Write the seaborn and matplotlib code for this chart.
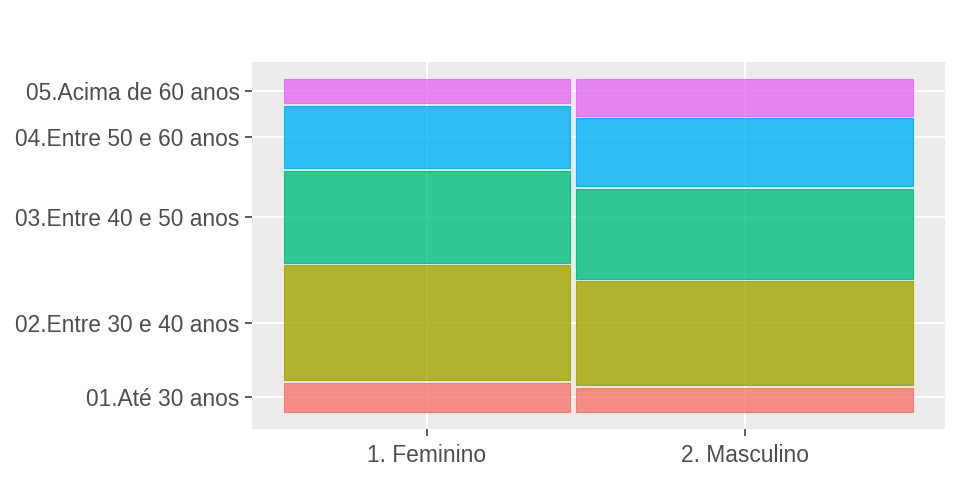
import matplotlib
matplotlib.use("Agg")
import matplotlib.pyplot as plt
import seaborn as sns
import numpy as np
import pandas as pd
from matplotlib.colors import to_rgba

# ---- data ----
genders = ["1. Feminino", "2. Masculino"]
gender_share = [0.459, 0.541]
age_groups = ["01.Até 30 anos", "02.Entre 30 e 40 anos", "03.Entre 40 e 50 anos",
              "04.Entre 50 e 60 anos", "05.Acima de 60 anos"]
fem_props = [0.092, 0.355, 0.284, 0.193, 0.076]
masc_props = [0.076, 0.321, 0.278, 0.211, 0.114]
palette = ["#F8766D", "#A3A500", "#00BF7D", "#00B0F6", "#E76BF3"]

sns.set_theme(style="darkgrid", rc={
    "axes.facecolor": "#EBEBEB",
    "grid.color": "white",
    "grid.linewidth": 1.4,
    "axes.edgecolor": "#EBEBEB",
})
plt.rcParams["font.family"] = ["Liberation Sans", "DejaVu Sans"]

fig = plt.figure(figsize=(9.6, 4.8), dpi=100)
ax = fig.add_axes([252/960, 51/480, 693/960, 367/480])

gap_x = 0.009
gap_y = 0.0075
props = [fem_props, masc_props]
x0 = 0.0
xcenters = []
ycenters_first = []
for gi, g in enumerate(genders):
    w = gender_share[gi] * (1 - gap_x)
    p = np.array(props[gi])
    p = p / p.sum()
    hs = p * (1 - gap_y * (len(p) - 1))
    y0 = 0.0
    for ai, a in enumerate(age_groups):
        col = palette[ai]
        ax.bar(x0, hs[ai], width=w, bottom=y0, align="edge",
               facecolor=to_rgba(col, 0.8), edgecolor=to_rgba(col, 0.9),
               linewidth=0.8, zorder=3)
        if gi == 0:
            ycenters_first.append(y0 + hs[ai] / 2)
        y0 += hs[ai] + gap_y
    xcenters.append(x0 + w / 2)
    x0 += w + gap_x

xmax = x0 - gap_x
ax.set_xlim(-0.05 * xmax, xmax * 1.05)
ax.set_ylim(-0.05, 1.05)
ax.set_xticks(xcenters)
ax.set_xticklabels(genders)
ax.set_yticks(ycenters_first)
ax.set_yticklabels(age_groups)
ax.grid(True, which="major", color="white", linewidth=1.4)
ax.set_axisbelow(True)
ax.tick_params(axis="both", which="major", length=5, width=1.1, color="#333333",
               labelsize=16.4, labelcolor="#4D4D4D", bottom=True, left=True)
ax.tick_params(axis="y", pad=4)
ax.tick_params(axis="x", pad=5.5)
for s in ax.spines.values():
    s.set_visible(False)
ax.set_xlabel("")
ax.set_ylabel("")

fig.savefig("out.png", dpi=100)
